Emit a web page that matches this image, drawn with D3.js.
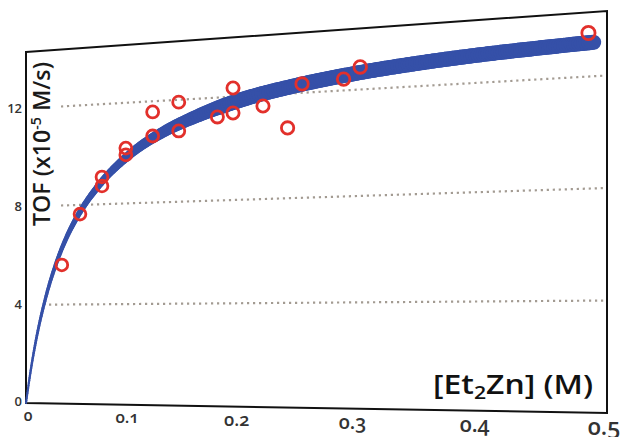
<!DOCTYPE html>
<html>
<head>
<meta charset="utf-8">
<script src="https://cdn.jsdelivr.net/npm/d3@7"></script>
<style>
  body { margin: 0; background: #fff; }
  svg { display: block; font-family: "Open Sans", sans-serif; }
</style>
</head>
<body>
<div id="app"></div>
<script>
'use strict'

// measured TOF values, [Et2Zn] in M, TOF in 1e-5 M/s
const conc = [0.035, 0.0525, 0.0735, 0.0735, 0.096, 0.096, 0.121, 0.121, 0.145, 0.145,
  0.18, 0.194, 0.194, 0.2205, 0.242, 0.2545, 0.29, 0.304, 0.486]
const tof = [5.6, 7.63, 9.09, 8.73, 10.2, 9.93, 11.58, 10.63, 11.91, 10.78,
  11.25, 12.34, 11.37, 11.58, 10.69, 12.34, 12.43, 12.85, 13.56]

// fitted curve
const fitConc = [0, 0.005, 0.01, 0.02, 0.03, 0.04, 0.05, 0.07, 0.1, 0.13, 0.16, 0.2, 0.25, 0.3, 0.35, 0.4, 0.45, 0.49]
const fitTof = [0, 1.42, 2.59, 4.39, 5.72, 6.74, 7.54, 8.73, 9.95, 10.75, 11.3, 11.85, 12.3, 12.62, 12.85, 13.02, 13.14, 13.22]

const xTicks = [0, 0.1, 0.2, 0.3, 0.4, 0.5]
const xTickLabels = ['0', '0.1', '0.2', '0.3', '0.4', '0.5']
const yTicks = [0, 4, 8, 12]
const gridValues = [4, 8, 12]

const width = 623
const height = 437
const xMax = 0.5
const yMax = 14.3

// the plot is drawn in perspective: frame corners in pixels
const frame = { left: 26, right: 607, bottomL: 403, bottomR: 413, topL: 52, topR: 11 }
const depth = ((frame.bottomR - frame.topR) / (frame.bottomL - frame.topL)) // right/left height
const c = 1 / depth - 1

const u = d3.scaleLinear().domain([0, xMax]).range([0, 1])
const v = d3.scaleLinear().domain([0, yMax]).range([0, 1])
const bottomEdge = d3.scaleLinear().domain([frame.left, frame.right]).range([frame.bottomL, frame.bottomR])
const topEdge = d3.scaleLinear().domain([frame.left, frame.right]).range([frame.topL, frame.topR])
const W = frame.right - frame.left

const px = x => {
  const t = u(x)
  return frame.left + W * t * (1 + c) / (1 + c * t)
}
const py = (x, y) => {
  const X = px(x)
  return bottomEdge(X) + v(y) * (topEdge(X) - bottomEdge(X))
}
// perspective scale factor at a pixel column
const depthAt = X => (bottomEdge(X) - topEdge(X)) / (frame.bottomL - frame.topL)
const invertPx = X => {
  const d = X - frame.left
  return u.invert(d / (W * (1 + c) - c * d))
}

const svg = d3.select('#app').append('svg')
  .attr('width', width)
  .attr('height', height)

// gridlines
const gridStart = invertPx(43)
svg.append('g')
  .selectAll('line')
  .data(gridValues)
  .enter().append('line')
  .attr('x1', px(gridStart))
  .attr('y1', d => py(gridStart, d))
  .attr('x2', px(xMax) - 3)
  .attr('y2', d => py(xMax, d))
  .style('stroke', '#a39b92')
  .style('stroke-width', 2.2)
  .style('stroke-dasharray', '2.2,3.8')

// frame
svg.append('path')
  .attr('d', d3.line()([
    [px(0), py(0, yMax)], [px(xMax), py(xMax, yMax)],
    [px(xMax), py(xMax, 0)], [px(0), py(0, 0)]
  ]) + 'Z')
  .style('fill', 'none')
  .style('stroke', '#111')
  .style('stroke-width', 2)

// y title (covers gridlines behind it)
svg.append('rect')
  .attr('x', 28).attr('y', 56).attr('width', 33).attr('height', 174)
  .style('fill', '#fff')

const yTitle = svg.append('text')
  .attr('transform', 'translate(50,226) rotate(-90)')
  .attr('textLength', 164)
  .attr('lengthAdjust', 'spacingAndGlyphs')
  .style('font-size', '23px')
  .style('font-weight', 600)
  .style('fill', '#1a1a1a')
yTitle.append('tspan').text('TOF (x10')
yTitle.append('tspan').attr('dy', -9).style('font-size', '14px').text('-5')
yTitle.append('tspan').attr('dy', 9).text(' M/s)')

// y tick labels
svg.append('g')
  .selectAll('text')
  .data(yTicks)
  .enter().append('text')
  .attr('x', frame.left - 4)
  .attr('y', d => py(0, d) - (d === 0 ? 2 : 0))
  .attr('dy', '0.36em')
  .attr('text-anchor', 'end')
  .style('font-size', '13px')
  .style('font-weight', 600)
  .style('fill', '#333')
  .text(d => d)

// x tick labels
svg.append('g')
  .selectAll('text')
  .data(xTicks)
  .enter().append('text')
  .attr('x', d => px(d) + (d === 0 ? 2 : -3))
  .attr('y', d => bottomEdge(px(d)) + 13 * depthAt(px(d)))
  .attr('dy', '0.3em')
  .attr('text-anchor', 'middle')
  .style('font-size', d => (15.5 * Math.pow(depthAt(px(d)), 3)) + 'px')
  .style('font-weight', 600)
  .style('font-feature-settings', '"onum"')
  .style('fill', '#333')
  .text((d, i) => xTickLabels[i])

// x title
const xTitle = svg.append('text')
  .attr('x', 433)
  .attr('y', 394)
  .attr('textLength', 160)
  .attr('lengthAdjust', 'spacingAndGlyphs')
  .style('font-size', '27px')
  .style('font-weight', 600)
  .style('fill', '#111')
xTitle.append('tspan').text('[Et')
xTitle.append('tspan').attr('dy', 5).style('font-size', '18px').text('2')
xTitle.append('tspan').attr('dy', -5).text('Zn] (M)')

// fitted curve, thickening with depth
const fitPts = fitConc.map((d, i) => [px(d), py(d, fitTof[i])])
const guide = svg.append('path')
  .attr('d', d3.line().curve(d3.curveMonotoneX)(fitPts))
  .style('fill', 'none')
  .style('stroke', 'none')
const node = guide.node()
const total = node.getTotalLength()
const samples = d3.range(0, 301).map(i => node.getPointAtLength(total * i / 300))
const thickness = X => Math.min(15, 2 + (X - frame.left) * 0.065)
svg.append('g')
  .selectAll('line')
  .data(samples.slice(1))
  .enter().append('line')
  .attr('x1', (d, i) => samples[i].x)
  .attr('y1', (d, i) => samples[i].y)
  .attr('x2', d => d.x)
  .attr('y2', d => d.y)
  .style('stroke', '#3550a8')
  .style('stroke-linecap', 'round')
  .style('stroke-width', d => thickness(d.x))

// measured points
svg.append('g')
  .selectAll('circle')
  .data(conc)
  .enter().append('circle')
  .attr('cx', d => px(d))
  .attr('cy', (d, i) => py(d, tof[i]))
  .attr('r', d => 5.8 * depthAt(px(d)))
  .style('fill', 'none')
  .style('stroke', '#e2302b')
  .style('stroke-width', 2.8)
</script>
</body>
</html>
